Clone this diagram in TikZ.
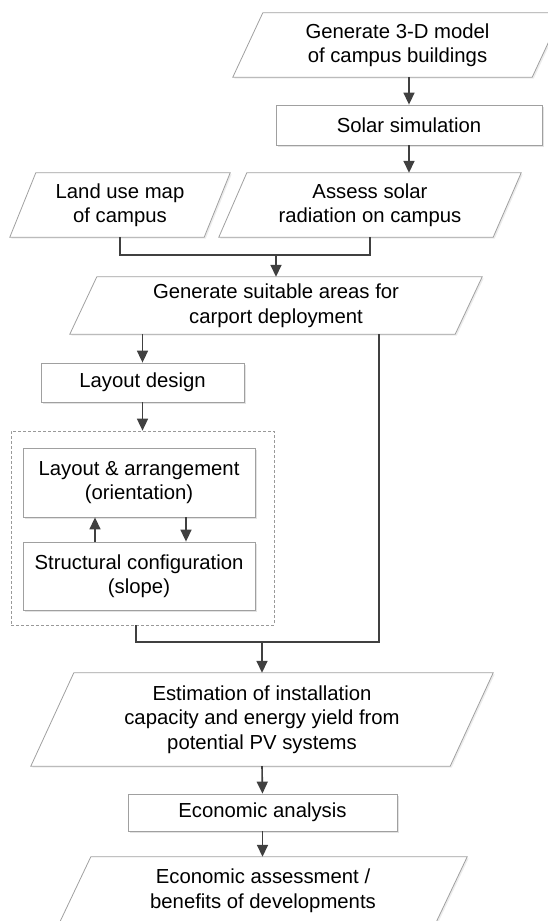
\documentclass[tikz,border=0pt]{standalone}
\usepackage{fontspec}
\setmainfont{Liberation Sans}
\usetikzlibrary{arrows.meta,shadows,backgrounds}
\definecolor{bordc}{HTML}{A0A0A0}
\definecolor{arrc}{HTML}{404040}
\newcommand{\drawpara}[2]{%
  \path[pline] ([xshift=#2]#1.north west) -- ([xshift=#2]#1.north east) -- ([xshift=-#2]#1.south east) -- ([xshift=-#2]#1.south west) -- cycle;}
\tikzset{
  base/.style={font=\fontsize{20.3}{24.5}\selectfont, align=center, inner sep=0pt, text=black},
  rbox/.style={base, draw=bordc, fill=white, line width=0.8pt, drop shadow={shadow xshift=2pt, shadow yshift=-2pt, fill=black!22}},
  ptext/.style={base},
  pline/.style={draw=bordc, fill=white, line width=0.8pt, drop shadow={shadow xshift=1.5pt, shadow yshift=-1.5pt, fill=black!15}},
  grpbox/.style={draw=black!40, dash pattern=on 3pt off 2pt, line width=0.7pt, inner sep=0pt},
  conn/.style={draw=arrc, line width=1.6pt},
  arr/.style={conn, -{Triangle[length=12pt,width=11pt]}},
}
\begin{document}
\begin{tikzpicture}[x=1pt,y=-1pt]
\useasboundingbox (0,0) rectangle (547,921);
% nodes
\node[ptext, minimum width=299pt, minimum height=64pt] (gen3d) at (397.5,45) {Generate 3-D model\\of campus buildings};
\node[rbox, minimum width=266pt, minimum height=40pt] (solar) at (409,125) {Solar simulation};
\node[ptext, minimum width=194pt, minimum height=64pt] (land) at (120,205) {Land use map\\of campus};
\node[ptext, minimum width=274pt, minimum height=64pt] (assess) at (370,205) {Assess solar\\radiation on campus};
\node[ptext, minimum width=385pt, minimum height=57pt] (suit) at (276,305.5) {Generate suitable areas for\\carport deployment};
\node[rbox, minimum width=203pt, minimum height=39pt] (layout) at (142.5,382.5) {Layout design};
\node[grpbox, minimum width=263pt, minimum height=194pt] (grp) at (142.5,528) {};
\node[rbox, minimum width=232pt, minimum height=69pt] (arrange) at (139,482.5) {Layout \& arrangement\\(orientation)};
\node[rbox, minimum width=232pt, minimum height=68pt] (struct) at (139,576) {Structural configuration\\(slope)};
\node[ptext, minimum width=419pt, minimum height=93pt] (est) at (262,719.5) {Estimation of installation\\capacity and energy yield from\\potential PV systems};
\node[rbox, minimum width=269pt, minimum height=37pt] (econ) at (262.5,812.5) {Economic analysis};
\node[ptext, minimum width=376pt, minimum height=67pt] (ecas) at (263,890.5) {Economic assessment /\\benefits of developments};
\begin{scope}[on background layer]
\drawpara{gen3d}{15pt}
\drawpara{land}{13pt}
\drawpara{assess}{14pt}
\drawpara{suit}{13.5pt}
\drawpara{est}{21.5pt}
\drawpara{ecas}{16pt}
\end{scope}
% junction coordinates
\coordinate (j1) at (275,255);
\coordinate (rdrop) at (379,642);
\coordinate (ldrop) at (136,642);
% connectors
\draw[arr] (solar.north |- gen3d.south) -- (solar.north);
\draw[arr] (solar.south) -- (solar.south |- assess.north);
\draw[conn] (land.south) |- (assess.south |- j1) -- (assess.south);
\draw[arr] (suit.north |- j1) -- (suit.north);
\draw[arr] (layout.north |- suit.south) -- (layout.north);
\draw[arr] (layout.south) -- (grp.north);
\draw[arr] ([xshift=-44pt]struct.north) -- ([xshift=-44pt]arrange.south);
\draw[arr] ([xshift=47pt]arrange.south) -- ([xshift=47pt]struct.north);
\draw[conn] (rdrop |- suit.south) -- (rdrop) -- (ldrop) -- (ldrop |- grp.south);
\draw[arr] (est.north |- rdrop) -- (est.north);
\draw[arr] (est.south) -- (econ.north);
\draw[arr] (econ.south) -- (econ.south |- ecas.north);
\end{tikzpicture}
\end{document}
